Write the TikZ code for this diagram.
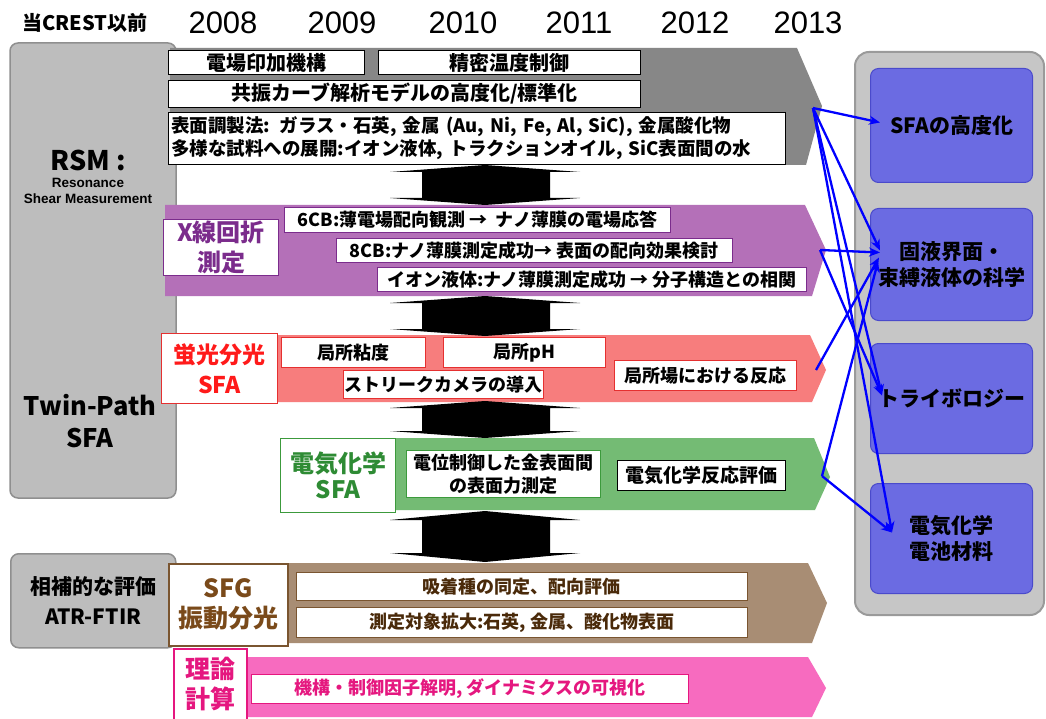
\documentclass[tikz,border=0pt]{standalone}
\usepackage{fontspec}
\setmainfont{Noto Sans CJK JP}
\newfontfamily\lat{Liberation Sans}
\usetikzlibrary{arrows.meta,calc}

\definecolor{bandgray}{HTML}{878787}
\definecolor{panelgray}{HTML}{BDBDBD}
\definecolor{panelborder}{HTML}{8F8F8F}
\definecolor{purpleband}{HTML}{B470B8}
\definecolor{purpletext}{HTML}{7B2C8C}
\definecolor{redband}{HTML}{F77D7D}
\definecolor{redtext}{HTML}{FF1A1A}
\definecolor{redborder}{HTML}{E53030}
\definecolor{greenband}{HTML}{74BB74}
\definecolor{greentext}{HTML}{2E8B34}
\definecolor{greenborder}{HTML}{3C9A3C}
\definecolor{brownband}{HTML}{A88D74}
\definecolor{browntext}{HTML}{7A4A1A}
\definecolor{brownborder}{HTML}{7A5530}
\definecolor{browninner}{HTML}{4A2A0A}
\definecolor{pinkband}{HTML}{F76BBF}
\definecolor{pinktext}{HTML}{E5177F}
\definecolor{bluebox}{HTML}{6B6BE2}
\definecolor{blueborder}{HTML}{4A4ACB}
\definecolor{rpanel}{HTML}{C6C6C6}
\definecolor{rpanelborder}{HTML}{9A9A9A}

\newcommand\fs[2]{\fontsize{#1}{#2}\selectfont}
% \bx[style]{name}{x1}{y1}{x2}{y2}{text}
\newcommand\bx[7][]{\node[box,anchor=north west,minimum width={(#5-#3)*1pt},minimum height={(#6-#4)*1pt},#1] (#2) at (#3,#4) {#7};}
% black double arrow: top apex, bottom apex, head height
\newcommand\dbl[3]{\fill[black] (390,#1+#3) -- (485,#1) -- (580,#1+#3) -- (550,#1+#3) -- (550,#2-#3) -- (580,#2-#3) -- (485,#2) -- (390,#2-#3) -- (422,#2-#3) -- (422,#1+#3) -- cycle;}

\begin{document}
\begin{tikzpicture}[x=1pt,y=-1pt,
  box/.style={draw=black,fill=white,line width=0.9pt,inner sep=1pt,align=center,font=\bfseries\fs{18}{21}},
  bluebx/.style={draw=blueborder,fill=bluebox,line width=1pt,rounded corners=8pt,inner sep=0pt,align=center,font=\bfseries\fs{21}{26},anchor=north west},
  bluearr/.style={draw=blue,line width=2.3pt,-{Stealth[length=11pt,width=9pt]}},
  hdr/.style={font=\lat\fs{31}{36}}]
\useasboundingbox (0,0) rectangle (1046,719);
\fill[white] (0,0) rectangle (1046,719);

% header
\node[font=\bfseries\fs{20}{24}] (head) at (85,23) {当CREST以前};
\node[hdr] (y08) at (223,23) {2008};
\node[hdr] (y09) at (342,23) {2009};
\node[hdr] (y10) at (463,23) {2010};
\node[hdr] (y11) at (579,23) {2011};
\node[hdr] (y12) at (695,23) {2012};
\node[hdr] (y13) at (808,23) {2013};

% left panel
\draw[panelborder,fill=panelgray,line width=1.5pt,rounded corners=8pt] (10,43) rectangle (176,498);
\node[font=\bfseries\fs{27}{30}] (rsm) at (88,160) {RSM :};
\node[font=\lat\bfseries\fs{13.5}{16.5},align=center] (rsmfull) at (88,191) {Resonance\\Shear Measurement};
\node[font=\bfseries\fs{25.5}{32},align=center] (twin) at (90,421) {Twin-Path\\SFA};

% bands
\fill[bandgray] (170,48) -- (797,48) -- (822,106) -- (806,165) -- (170,165) -- cycle;
\fill[purpleband] (165,205) -- (805,205) -- (826,250) -- (812,296) -- (165,296) -- cycle;
\fill[redband] (165,335) -- (810,335) -- (826,370) -- (812,402) -- (165,402) -- cycle;
\fill[greenband] (280,438) -- (814,438) -- (830,477) -- (815,510) -- (280,510) -- cycle;
\fill[brownband] (170,563) -- (808,563) -- (827,603) -- (812,643) -- (170,643) -- cycle;
\fill[pinkband] (240,657) -- (808,657) -- (826,688) -- (812,717) -- (240,717) -- cycle;

% RSM boxes
\bx[font=\bfseries\fs{20}{24}]{b1}{168}{50}{364}{74}{電場印加機構}
\bx[font=\bfseries\fs{20}{24}]{b2}{378}{50}{640}{74}{精密温度制御}
\bx[font=\bfseries\fs{20}{24}]{b3}{168}{80}{640}{107}{共振カーブ解析モデルの高度化/標準化}
\node[box,anchor=north west,align=left,text width=611pt,inner xsep=3pt,minimum height=52pt,font=\bfseries\fs{18.5}{23}] (b4) at (168,112) {表面調製法: ガラス・石英, 金属 (Au, Ni, Fe, Al, SiC), 金属酸化物\\多様な試料への展開:イオン液体, トラクションオイル, SiC表面間の水};

% X-ray
\bx[draw=purpletext,line width=1pt,text=purpletext,font=\bfseries\fs{24}{30}]{xr}{163}{219}{278}{275}{X線回折\\測定}
\bx[draw=purpletext]{x1}{284}{207}{670}{232}{6CB:薄電場配向観測 → \ ナノ薄膜の電場応答}
\bx[draw=purpletext]{x2}{336}{238}{732}{262}{8CB:ナノ薄膜測定成功→ 表面の配向効果検討}
\bx[draw=purpletext]{x3}{377}{267}{806}{291}{イオン液体:ナノ薄膜測定成功 → 分子構造との相関}

% fluorescence
\bx[draw=redborder,line width=1pt,text=redtext,font=\bfseries\fs{23}{30}]{fl}{161}{333}{277}{403}{蛍光分光\\SFA}
\bx[draw=redborder]{f1}{281}{337}{425}{367}{局所粘度}
\bx[draw=redborder]{f2}{443}{337}{605}{367}{局所pH}
\bx[draw=redborder]{f3}{343}{370}{534}{398}{ストリークカメラの導入}
\bx[draw=redborder]{f4}{614}{360}{796}{390}{局所場における反応}

% electrochemistry
\bx[draw=greenborder,line width=1pt,text=greentext,font=\bfseries\fs{24}{26}]{ec}{280}{438}{395}{512}{電気化学\\SFA}
\bx[draw=greenborder,font=\bfseries\fs{18}{23}]{e1}{406}{450}{600}{497}{電位制御した金表面間\\の表面力測定}
\bx[line width=1.2pt,font=\bfseries\fs{19}{22}]{e2}{617}{460}{785}{490}{電気化学反応評価}

% SFG / ATR
\node[draw=panelborder,fill=panelgray,line width=1.5pt,rounded corners=8pt,anchor=north west,minimum width=165pt,minimum height=94pt,align=center,font=\bfseries\fs{21}{30}] (atr) at (10,553) {相補的な評価\\ATR-FTIR};
\bx[draw=brownborder,line width=1.5pt,text=browntext,font=\bfseries\fs{25}{30}]{sfg}{168}{563}{287}{645}{SFG\\振動分光}
\bx[draw=brownborder,text=browninner]{s1}{296}{572}{747}{600}{吸着種の同定、配向評価}
\bx[draw=brownborder,text=browninner]{s2}{296}{607}{747}{637}{測定対象拡大:石英, 金属、酸化物表面}

% theory
\bx[draw=pinktext,line width=1.5pt,text=pinktext,font=\bfseries\fs{25}{30}]{th}{173}{648}{246}{719}{理論\\計算}
\bx[draw=pinktext,text=pinktext]{t1}{251}{674}{688}{703}{機構・制御因子解明, ダイナミクスの可視化}

% black double arrows
\dbl{165}{205}{7}
\dbl{296}{336}{7}
\dbl{401}{438}{7}
\dbl{511}{562}{9}

% right panel
\draw[rpanelborder,fill=rpanel,line width=2pt,rounded corners=14pt] (855,52) rectangle (1044,615);
\node[bluebx,minimum width=162pt,minimum height=114pt] (sfa) at (870,68) {SFAの高度化};
\node[bluebx,minimum width=162pt,minimum height=112pt] (gl) at (870,208) {固液界面・\\束縛液体の科学};
\node[bluebx,minimum width=162pt,minimum height=110pt] (tr) at (870,343) {トライボロジー};
\node[bluebx,minimum width=162pt,minimum height=110pt] (ecb) at (870,483) {電気化学\\電池材料};

% blue connectors
\coordinate (A) at (813,108);
\coordinate (B) at (820,250);
\coordinate (C) at (816,370);
\coordinate (D) at (822,476);
\draw[bluearr] (A) -- ([xshift=10pt,yshift=3pt]sfa.west);
\draw[bluearr] (A) -- ([xshift=10pt,yshift=14pt]gl.west);
\draw[bluearr] (A) -- ([xshift=12pt,yshift=3pt]tr.west);
\draw[bluearr] (A) -- ([xshift=22pt,yshift=6pt]ecb.west);
\draw[bluearr] (B) -- ([xshift=10pt,yshift=12pt]gl.west);
\draw[bluearr] (B) -- ([xshift=12pt,yshift=3pt]tr.west);
\draw[bluearr] (C) -- ([xshift=9pt,yshift=7pt]gl.west);
\draw[bluearr] (D) -- ([xshift=8pt,yshift=3pt]gl.west);
\draw[bluearr] (D) -- ([xshift=22pt,yshift=6pt]ecb.west);
\end{tikzpicture}
\end{document}
